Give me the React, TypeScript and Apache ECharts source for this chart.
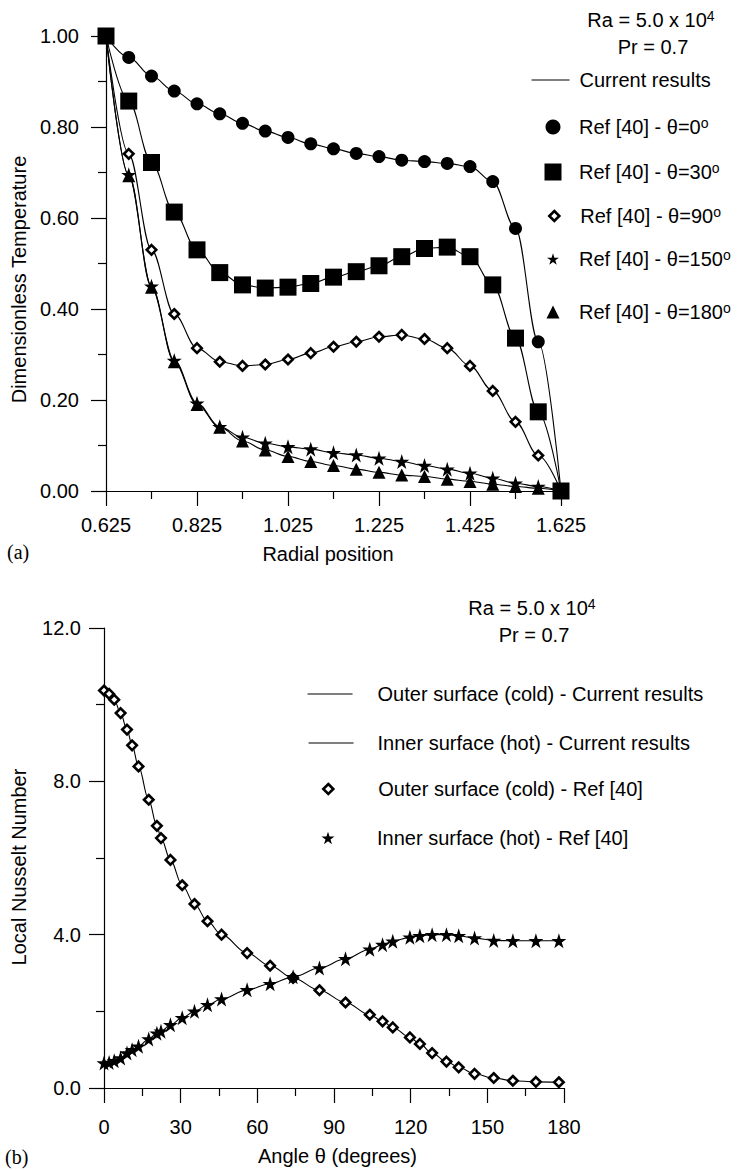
import React, { useEffect, useRef } from 'react';
import * as echarts from 'echarts';

const FONT = '"Liberation Sans", Arial, Helvetica, sans-serif';
const SERIF = '"Liberation Serif", "Times New Roman", serif';

// ---------- Panel (a): dimensionless temperature vs radial position ----------
const radialPosition = [0.625, 0.675, 0.725, 0.775, 0.825, 0.875, 0.925, 0.975, 1.025, 1.075, 1.125, 1.175, 1.225, 1.275, 1.325, 1.375, 1.425, 1.475, 1.525, 1.575, 1.625];
const tempTheta0 = [1.0, 0.953, 0.912, 0.879, 0.851, 0.829, 0.808, 0.791, 0.777, 0.763, 0.752, 0.742, 0.735, 0.727, 0.724, 0.72, 0.713, 0.68, 0.577, 0.328, 0.0];
const tempTheta30 = [1.0, 0.857, 0.722, 0.613, 0.53, 0.48, 0.453, 0.446, 0.448, 0.456, 0.47, 0.482, 0.495, 0.515, 0.533, 0.536, 0.515, 0.453, 0.336, 0.174, 0.0];
const tempTheta90 = [1.0, 0.741, 0.53, 0.389, 0.314, 0.284, 0.275, 0.278, 0.289, 0.303, 0.317, 0.328, 0.339, 0.343, 0.334, 0.314, 0.275, 0.22, 0.152, 0.078, 0.0];
const tempTheta150 = [1.0, 0.695, 0.45, 0.287, 0.193, 0.141, 0.118, 0.105, 0.097, 0.092, 0.084, 0.079, 0.072, 0.065, 0.056, 0.048, 0.039, 0.028, 0.017, 0.01, 0.0];
const tempTheta180 = [1.0, 0.693, 0.448, 0.284, 0.19, 0.14, 0.11, 0.09, 0.076, 0.065, 0.056, 0.048, 0.041, 0.035, 0.032, 0.026, 0.021, 0.015, 0.01, 0.006, 0.0];
const radialAxis = { min: 0.625, max: 1.625, step: 0.2 };
const tempAxis = { min: 0, max: 1, step: 0.2 };

// ---------- Panel (b): local Nusselt number vs angle ----------
const angleTheta = [0, 2, 4, 6.5, 9, 11, 13.5, 17.5, 20.7, 22.3, 26, 30.6, 35.4, 40.5, 46, 56, 65, 74, 84.3, 94.5, 104, 109, 113, 119.7, 123.6, 128.4, 134, 138.8, 145, 152.5, 160, 169, 178];
const nuOuter = [10.37, 10.28, 10.13, 9.78, 9.35, 8.94, 8.39, 7.52, 6.84, 6.52, 5.95, 5.29, 4.8, 4.35, 4.0, 3.52, 3.19, 2.87, 2.55, 2.23, 1.91, 1.74, 1.58, 1.32, 1.15, 0.91, 0.69, 0.54, 0.37, 0.26, 0.19, 0.16, 0.15];
const nuInner = [0.65, 0.667, 0.71, 0.78, 0.91, 1.0, 1.09, 1.28, 1.43, 1.48, 1.65, 1.83, 2.0, 2.17, 2.32, 2.56, 2.72, 2.9, 3.13, 3.37, 3.62, 3.74, 3.83, 3.93, 3.97, 4.0, 4.0, 3.97, 3.91, 3.85, 3.84, 3.84, 3.84];
const angleAxis = { min: 0, max: 180, step: 30 };
const nuAxis = { min: 0, max: 12, step: 4 };

const STAR = 'path://M50,0L61.2,34.5L97.6,34.5L68.2,55.9L79.4,90.5L50,69.1L20.6,90.5L31.8,55.9L2.4,34.5L38.8,34.5Z';

const pairs = (xs: number[], ys: number[]) => xs.map((x, i) => [x, ys[i]]);

const BLACK = { color: '#000', opacity: 1 };
const HOLLOW = { color: '#fff', borderColor: '#000', borderWidth: 2.6, opacity: 1 };

const topDefs = [
  { name: 'Ref [40] - θ=0', values: tempTheta0, symbol: 'circle', size: 13, style: BLACK, lsize: 15, cy: 127, z: 2 },
  { name: 'Ref [40] - θ=30', values: tempTheta30, symbol: 'rect', size: 17, style: BLACK, lsize: 17, cy: 172, z: 4 },
  { name: 'Ref [40] - θ=90', values: tempTheta90, symbol: 'diamond', size: 9.5, style: HOLLOW, lsize: 10, cy: 216, z: 3 },
  { name: 'Ref [40] - θ=150', values: tempTheta150, symbol: STAR, size: 15, style: BLACK, lsize: 12, cy: 259, z: 3 },
  { name: 'Ref [40] - θ=180', values: tempTheta180, symbol: 'triangle', size: 13, style: BLACK, lsize: 13, cy: 312, z: 2 },
];

const SUP_RICH = {
  t: { fontFamily: FONT, fontSize: 20, color: '#000', lineHeight: 22 },
  s: { fontFamily: FONT, fontSize: 14, color: '#000', verticalAlign: 'top', lineHeight: 14 },
};

const textStyleBase = { fontFamily: FONT, fontSize: 20, color: '#000' };

function axisCommon() {
  return {
    type: 'value',
    axisLine: { show: true, onZero: false, lineStyle: { color: '#000', width: 1.2 } },
    axisTick: { show: true, length: 15, lineStyle: { color: '#000', width: 1.2 } },
    minorTick: { show: true, splitNumber: 2, length: 8, lineStyle: { color: '#000', width: 1.2 } },
    splitLine: { show: false },
    minorSplitLine: { show: false },
    nameLocation: 'middle',
  };
}

export default function App() {
  const ref = useRef<HTMLDivElement>(null);
  useEffect(() => {
    if (!ref.current) return;
    const chart = echarts.init(ref.current, null, { renderer: 'svg' });

    const series: any[] = [];
    topDefs.forEach((d) => {
      series.push({
        type: 'line', name: 'Current results', xAxisIndex: 0, yAxisIndex: 0,
        data: pairs(radialPosition, d.values), smooth: 0.35, smoothMonotone: 'x', symbol: 'none',
        lineStyle: { color: '#000', width: 1.1 }, itemStyle: { color: '#000' }, z: 1, silent: true,
      });
    });
    topDefs.forEach((d) => {
      series.push({
        type: 'scatter', name: d.name, xAxisIndex: 0, yAxisIndex: 0,
        data: pairs(radialPosition, d.values), symbol: d.symbol, symbolSize: d.size,
        itemStyle: d.style, z: d.z, silent: true,
      });
    });
    series.push({
      type: 'line', name: 'Outer surface (cold) - Current results', xAxisIndex: 1, yAxisIndex: 1,
      data: pairs(angleTheta, nuOuter), smooth: 0.35, smoothMonotone: 'x', symbol: 'none',
      lineStyle: { color: '#000', width: 1.1 }, itemStyle: { color: '#000' }, z: 1, silent: true,
    });
    series.push({
      type: 'line', name: 'Inner surface (hot) - Current results', xAxisIndex: 1, yAxisIndex: 1,
      data: pairs(angleTheta, nuInner), smooth: 0.35, smoothMonotone: 'x', symbol: 'none',
      lineStyle: { color: '#000', width: 1.1 }, itemStyle: { color: '#000' }, z: 1, silent: true,
    });
    series.push({
      type: 'scatter', name: 'Outer surface (cold) - Ref [40]', xAxisIndex: 1, yAxisIndex: 1,
      data: pairs(angleTheta, nuOuter), symbol: 'diamond', symbolSize: 9.5, itemStyle: HOLLOW, z: 3, silent: true,
    });
    series.push({
      type: 'scatter', name: 'Inner surface (hot) - Ref [40]', xAxisIndex: 1, yAxisIndex: 1,
      data: pairs(angleTheta, nuInner), symbol: STAR, symbolSize: 15, itemStyle: BLACK, z: 3, silent: true,
    });

    const legends: any[] = [];
    const lineLegend = (name: string, left: number, cy: number, w: number, textLeft: number) => ({
      data: [{ name }], left, top: cy - 10, padding: 0, itemGap: 0, itemWidth: w, itemHeight: 20,
      selectedMode: false, itemStyle: { opacity: 0 }, lineStyle: { color: '#000', width: 1.1, opacity: 1 },
      textStyle: { ...textStyleBase, lineHeight: 20, padding: [0, 0, 0, textLeft - (left + w + 5)] },
    });
    const markLegend = (name: string, cx: number, cy: number, size: number, style: any, textLeft: number, sup: boolean) => ({
      data: [{ name }], left: cx - size / 2, top: cy - 11, padding: 0, itemGap: 0, itemWidth: size, itemHeight: size,
      selectedMode: false, itemStyle: style,
      formatter: sup ? (n: string) => `{t|${n}}{s|o}` : undefined,
      textStyle: { ...textStyleBase, lineHeight: 22, padding: [0, 0, 0, textLeft - (cx + size / 2 + 5)], rich: SUP_RICH },
    });
    legends.push(lineLegend('Current results', 531, 80, 38, 579));
    topDefs.forEach((d) => legends.push(markLegend(d.name, 553, d.cy, d.lsize, d.style, 579, true)));
    legends.push(lineLegend('Outer surface (cold) - Current results', 307, 694, 45, 377));
    legends.push(lineLegend('Inner surface (hot) - Current results', 308, 743, 45, 377));
    legends.push(markLegend('Outer surface (cold) - Ref [40]', 327, 789, 10, HOLLOW, 377, false));
    legends.push(markLegend('Inner surface (hot) - Ref [40]', 328, 838, 13, BLACK, 377, false));

    const supText = (x: number, y: number, main: string, sup: string) => ({
      type: 'text', x, y, silent: true,
      style: { text: sup ? `{t|${main}}{s|${sup}}` : `{t|${main}}`, rich: SUP_RICH, align: 'center', verticalAlign: 'middle' },
    });

    const option: any = {
      animation: false,
      backgroundColor: '#fff',
      textStyle: { fontFamily: FONT },
      grid: [
        { left: 106, top: 36, width: 455, height: 455 },
        { left: 104, top: 628, width: 460, height: 460 },
      ],
      xAxis: [
        {
          ...axisCommon(), gridIndex: 0, min: radialAxis.min, max: radialAxis.max, interval: radialAxis.step,
          name: 'Radial position', nameGap: 53,
          nameTextStyle: { ...textStyleBase, padding: [0, 11, 0, 0] },
          axisLabel: { ...textStyleBase, margin: 24, formatter: (v: number) => v.toFixed(3) },
        },
        {
          ...axisCommon(), gridIndex: 1, min: angleAxis.min, max: angleAxis.max, interval: angleAxis.step,
          name: 'Angle θ (degrees)', nameGap: 58,
          nameTextStyle: { ...textStyleBase, padding: [0, 0, 0, 7] },
          axisLabel: { ...textStyleBase, margin: 29, formatter: (v: number) => String(Math.round(v)) },
        },
      ],
      yAxis: [
        {
          ...axisCommon(), gridIndex: 0, min: tempAxis.min, max: tempAxis.max, interval: tempAxis.step,
          name: 'Dimensionless Temperature', nameGap: 72,
          nameTextStyle: { ...textStyleBase, padding: [0, 32, 0, 0] },
          axisLabel: { ...textStyleBase, margin: 27, formatter: (v: number) => v.toFixed(2) },
        },
        {
          ...axisCommon(), gridIndex: 1, min: nuAxis.min, max: nuAxis.max, interval: nuAxis.step,
          name: 'Local Nusselt Number', nameGap: 75,
          nameTextStyle: { ...textStyleBase, padding: [0, 18, 0, 0] },
          axisLabel: { ...textStyleBase, margin: 23, formatter: (v: number) => v.toFixed(1) },
        },
      ],
      legend: legends,
      series,
      graphic: [
        supText(651, 20, 'Ra = 5.0 x 10', '4'),
        supText(653, 47, 'Pr = 0.7', ''),
        supText(532, 608, 'Ra = 5.0 x 10', '4'),
        supText(534, 635, 'Pr = 0.7', ''),
        { type: 'text', x: 7, y: 552, silent: true, style: { text: '(a)', font: `20px ${SERIF}`, fill: '#000', align: 'left', verticalAlign: 'middle' } },
        { type: 'text', x: 5, y: 1157, silent: true, style: { text: '(b)', font: `20px ${SERIF}`, fill: '#000', align: 'left', verticalAlign: 'middle' } },
      ],
    };
    chart.setOption(option);
    return () => chart.dispose();
  }, []);
  return <div ref={ref} style={{ position: 'absolute', left: 0, top: 0, width: 740, height: 1170, background: '#fff' }} />;
}
